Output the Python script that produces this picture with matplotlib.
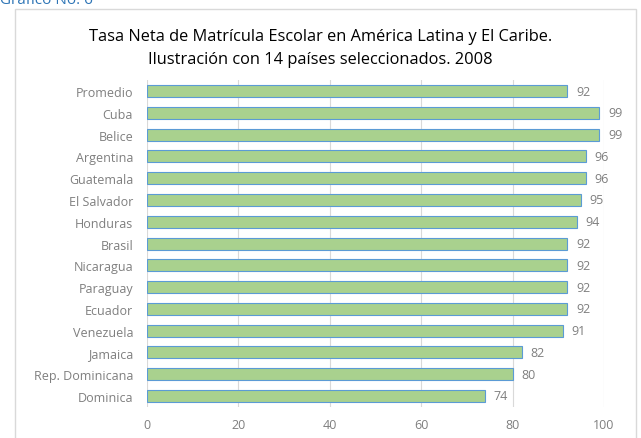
import matplotlib.pyplot as plt
from matplotlib.patches import Rectangle

paises = [
    "Promedio", "Cuba", "Belice", "Argentina", "Guatemala", "El Salvador",
    "Honduras", "Brasil", "Nicaragua", "Paraguay", "Ecuador", "Venezuela",
    "Jamaica", "Rep. Dominicana", "Dominica",
]
tasas = [92, 99, 99, 96, 96, 95, 94, 92, 92, 92, 92, 91, 82, 80, 74]
xticks = [0, 20, 40, 60, 80, 100]

plt.rcParams["font.family"] = ["Open Sans", "DejaVu Sans"]

fig = plt.figure(figsize=(6.41, 4.39), dpi=100)

# marco exterior del gráfico
fig.patches.append(Rectangle((15 / 641, -0.01), 621 / 641, 1 - 10 / 439 + 0.01,
                             transform=fig.transFigure, fill=False,
                             edgecolor="#D9D9D9", linewidth=1))
fig.text(0.0, 1.0, "Gráfico No. 6", color="#2E75B6", fontsize=11,
         ha="left", va="center")

ax = fig.add_axes([147 / 641, 0.071, (604 - 147) / 641, 0.744])

y = list(range(len(paises)))
ax.barh(y, tasas, height=0.55, color="#A9D18E", edgecolor="#5B9BD5",
        linewidth=0.8, zorder=3)
for yi, v in zip(y, tasas):
    ax.text(v + 1.9, yi, str(v), va="center", ha="left", fontsize=9,
            color="#7F7F7F")

ax.set_yticks(y)
ax.set_yticklabels(paises)
ax.invert_yaxis()
ax.set_ylim(len(paises) - 0.5, -0.5)
ax.set_xlim(0, 100)
ax.set_xticks(xticks)
ax.tick_params(axis="both", length=0, labelsize=9, labelcolor="#7F7F7F")
ax.tick_params(axis="y", pad=10)
ax.tick_params(axis="x", pad=8)
ax.grid(axis="x", color="#D9D9D9", linewidth=0.8, zorder=0)
for s in ax.spines.values():
    s.set_visible(False)

fig.text(0.5, 1 - 37 / 439, "Tasa Neta de Matrícula Escolar en América Latina y El Caribe.",
         ha="center", va="center", fontsize=11.8, color="#000000")
fig.text(0.5, 1 - 60 / 439, "Ilustración con 14 países seleccionados. 2008",
         ha="center", va="center", fontsize=11.8, color="#000000")

fig.savefig("out.png", dpi=100)
